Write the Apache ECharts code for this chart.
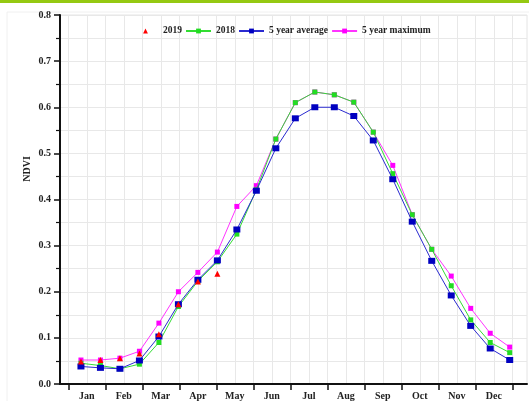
<!DOCTYPE html>
<html>
<head>
<meta charset="utf-8">
<script src="https://cdn.jsdelivr.net/npm/echarts@6/dist/echarts.min.js"></script>
<style>
html,body{margin:0;padding:0;background:#fff;}
#chart{width:529px;height:401px;}
</style>
</head>
<body>
<div id="chart"></div>
<script>
// Composite start day-of-year (16-day composites)
var doy = [1,17,33,49,65,81,97,113,129,145,161,177,193,209,225,241,257,273,289,305,321,337,353];
var ndvi2019 = [0.049,0.052,0.056,0.066,0.108,0.173,0.222,0.239];
var ndvi2018 = [0.045,0.040,0.033,0.043,0.090,0.168,0.223,0.265,0.325,0.421,0.531,0.610,0.633,0.627,0.611,0.546,0.456,0.367,0.292,0.213,0.139,0.090,0.068];
var avg5 = [0.038,0.035,0.033,0.051,0.103,0.173,0.226,0.268,0.335,0.419,0.511,0.576,0.600,0.600,0.581,0.528,0.444,0.352,0.267,0.192,0.126,0.077,0.052];
var max5 = [0.052,0.052,0.056,0.071,0.132,0.200,0.242,0.286,0.385,0.430,0.531,0.610,0.633,0.627,0.611,0.546,0.474,0.367,0.292,0.234,0.164,0.110,0.080];
var months = ['Jan','Feb','Mar','Apr','May','Jun','Jul','Aug','Sep','Oct','Nov','Dec'];
var yTicks = ['0.0','0.1','0.2','0.3','0.4','0.5','0.6','0.7','0.8'];

// half-month positions: boundaries (empty) and mid-month labels
var halfMonth = [];
for (var m = 0; m < 12; m++) { halfMonth.push(''); halfMonth.push(months[m]); }
halfMonth.push('');

function pairs(xs, ys) { return ys.map(function (v, i) { return [xs[i], v]; }); }

var serif = '"Liberation Serif","Times New Roman",serif';
var chart = echarts.init(document.getElementById('chart'), null, {renderer: 'canvas'});
chart.setOption({
  animation: false,
  backgroundColor: '#ffffff',
  graphic: [
    {type: 'rect', shape: {x: 0, y: 0, width: 529, height: 3}, style: {fill: '#95c912'}, z: 10},
    {type: 'rect', shape: {x: 7, y: 12, width: 530, height: 400}, style: {fill: 'none', stroke: '#f0f0f0', lineWidth: 1}, z: -1},
    {type: 'text', x: 27, y: 169, rotation: Math.PI / 2,
      style: {text: 'NDVI', font: 'bold 10px ' + serif, fill: '#222', align: 'center', verticalAlign: 'middle'}}
  ],
  legend: {
    left: 128, top: 21,
    itemWidth: 25, itemHeight: 6, itemGap: 3,
    data: ['2019', '2018', '5 year average', '5 year maximum'],
    textStyle: {fontFamily: serif, fontWeight: 'bold', fontSize: 9.5, color: '#222'}
  },
  grid: [
    {left: 60, right: 2, top: 15, bottom: 17, show: true, borderColor: '#e4e4e4', borderWidth: 1},
    {left: 68.3, right: 16.7, top: 15, bottom: 17}
  ],
  xAxis: [
    {type: 'value', gridIndex: 0, min: -16.2, max: 367.2,
      axisLine: {show: true, onZero: false, lineStyle: {color: '#111', width: 2}},
      axisTick: {show: false}, axisLabel: {show: false}, splitLine: {show: false}},
    {type: 'category', gridIndex: 1, data: halfMonth, boundaryGap: false,
      axisLine: {show: false, onZero: false},
      axisTick: {show: true, length: 6, interval: function (i) { return i % 2 === 0; }, lineStyle: {color: '#111', width: 1.5}},
      axisLabel: {interval: 0, margin: 7, fontFamily: serif, fontWeight: 'bold', fontSize: 10, color: '#222'},
      splitLine: {show: true, interval: 0, lineStyle: {color: '#e8e8e8', width: 1}}}
  ],
  yAxis: [
    {type: 'value', gridIndex: 0, min: 0, max: 0.8, interval: 0.1,
      axisLine: {show: true, onZero: false, lineStyle: {color: '#111', width: 2}},
      axisTick: {show: true, length: 6, lineStyle: {color: '#111', width: 1.5}},
      minorTick: {show: true, splitNumber: 2, length: 4, lineStyle: {color: '#111', width: 1.2}},
      axisLabel: {margin: 9, fontFamily: serif, fontWeight: 'bold', fontSize: 10, color: '#222',
        formatter: function (v) { return yTicks[Math.round(v * 10)]; }},
      splitLine: {show: true, lineStyle: {color: '#e8e8e8', width: 1}},
      minorSplitLine: {show: true, lineStyle: {color: '#e8e8e8', width: 1}}},
    {type: 'value', gridIndex: 1, min: 0, max: 0.8, show: false, splitLine: {show: false}}
  ],
  series: [
    {name: '5 year maximum', type: 'line', xAxisIndex: 0, yAxisIndex: 0, data: pairs(doy, max5),
      symbol: 'rect', symbolSize: 5, color: '#ff00ff', lineStyle: {width: 1, color: '#ff33ff'}, z: 2},
    {name: '2018', type: 'line', xAxisIndex: 0, yAxisIndex: 0, data: pairs(doy, ndvi2018),
      symbol: 'rect', symbolSize: 5, color: '#22dd22', lineStyle: {width: 1, color: '#33dd33'}, z: 3},
    {name: '5 year average', type: 'line', xAxisIndex: 0, yAxisIndex: 0, data: pairs(doy, avg5),
      symbol: 'rect', symbolSize: [7, 6], color: '#0000c0', lineStyle: {width: 1, color: '#2a2ad0'}, z: 4},
    {name: '2019', type: 'line', xAxisIndex: 0, yAxisIndex: 0, data: pairs(doy, ndvi2019),
      symbol: 'triangle', symbolSize: 6, color: '#ff0000', lineStyle: {width: 0, opacity: 0}, z: 5}
  ]
});
</script>
</body>
</html>
